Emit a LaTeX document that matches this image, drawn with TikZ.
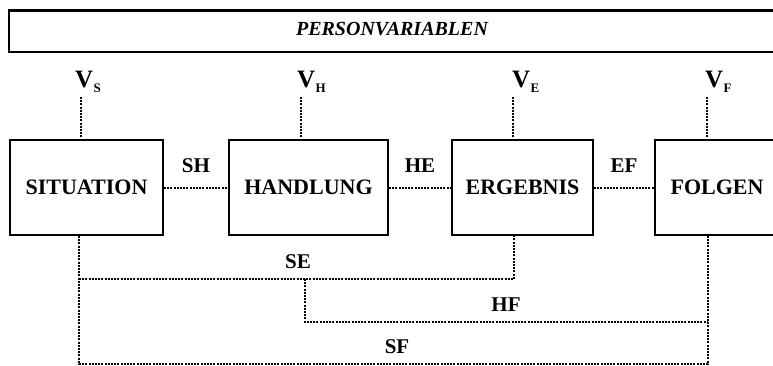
\documentclass[tikz,border=0pt]{standalone}
\usepackage{fontspec}
\setmainfont{Liberation Serif}
\begin{document}
\begin{tikzpicture}[x=1pt,y=-1pt,
  box/.style={draw,line width=2pt,minimum height=95pt,inner sep=0pt,
    font=\bfseries\fontsize{22}{22}\selectfont},
  con/.style={line width=2pt,dash pattern=on 2pt off 1.2pt},
  lab/.style={inner sep=0pt,font=\bfseries\fontsize{21}{21}\selectfont},
  vlab/.style={inner sep=0pt,anchor=base west,font=\bfseries\fontsize{25}{25}\selectfont},
  subl/.style={inner sep=0pt,anchor=base west,font=\bfseries\fontsize{13}{13}\selectfont}]
\useasboundingbox (0,0) rectangle (773,365);

% banner
\node[draw,line width=1.8pt,minimum width=780pt,minimum height=41pt,inner sep=0pt,anchor=north west] (banner) at (8,10) {};
\draw[line width=3pt] (banner.north west) -- (banner.north east);
\node[inner sep=0pt,font=\bfseries\itshape\fontsize{20}{20}\selectfont] (pv) at (392,29) {PERSONVARIABLEN};

% boxes
\node[box,minimum width=153pt] (sit) at (86.5,187.5) {SITUATION};
\node[box,minimum width=159pt] (hand) at (308.5,187.5) {HANDLUNG};
\node[box,minimum width=141pt] (erg) at (522.5,187.5) {ERGEBNIS};
\node[box,minimum width=124pt] (folg) at (717,187.5) {FOLGEN};

% V labels
\node[vlab] (vs) at (75,87) {V};
\node[subl] (vss) at ([yshift=-5pt]vs.base east) {S};
\node[vlab] (vh) at (297,87) {V};
\node[subl] (vhs) at ([yshift=-5pt]vh.base east) {H};
\node[vlab] (ve) at (512,87) {V};
\node[subl] (ves) at ([yshift=-5pt]ve.base east) {E};
\node[vlab] (vf) at (705,87) {V};
\node[subl] (vfs) at ([yshift=-5pt]vf.base east) {F};

\coordinate (vsT) at (81,97);
\coordinate (vhT) at (301,97);
\coordinate (veT) at (513,97);
\coordinate (vfT) at (707,97);
\draw[con] (vsT) -- (vsT |- sit.north);
\draw[con] (vhT) -- (vhT |- hand.north);
\draw[con] (veT) -- (veT |- erg.north);
\draw[con] (vfT) -- (vfT |- folg.north);

% horizontal links
\draw[con] (sit.east) -- (hand.west);
\draw[con] (hand.east) -- (erg.west);
\draw[con] (erg.east) -- (folg.west);
\node[lab] (sh) at (196,166) {SH};
\node[lab] (he) at (420,166) {HE};
\node[lab] (ef) at (624,166) {EF};

% lower links
\coordinate (sitB) at (79,364);
\coordinate (folB) at (708,364);
\coordinate (seL) at (79,279);
\coordinate (seR) at (514,279);
\coordinate (hfA) at (305,279);
\coordinate (hfB) at (305,322);
\coordinate (hfR) at (708,322);
\draw[con] (sit.south -| sitB) -- (sitB) -- (folB) -- (folg.south -| folB);
\draw[con] (seL) -- (seR) -- (erg.south -| seR);
\draw[con] (hfA) -- (hfB) -- (hfR);
\node[lab] (se) at (298,262) {SE};
\node[lab] (hf) at (506,305) {HF};
\node[lab] (sf) at (397,347) {SF};
\end{tikzpicture}
\end{document}
